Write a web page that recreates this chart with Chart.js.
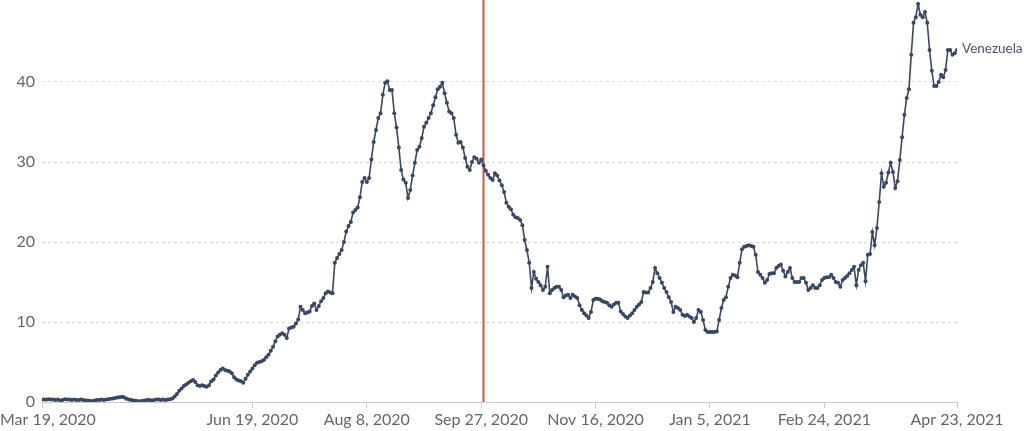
<!DOCTYPE html>
<html>
<head>
<meta charset="utf-8">
<script src="https://cdn.jsdelivr.net/npm/chart.js@4/dist/chart.umd.min.js"></script>
<style>
  html, body { margin: 0; padding: 0; background: #fff; }
  #wrap { width: 1024px; height: 431px; }
</style>
</head>
<body>
<div id="wrap"><canvas id="myChart"></canvas></div>
<script>
// daily values, day 0 = Mar 19, 2020 ... day 400 = Apr 23, 2021
var countryName = 'Venezuela';
var values = [
  0.3, 0.3, 0.3, 0.35, 0.3, 0.3, 0.25, 0.3, 0.2, 0.25,
  0.35, 0.3, 0.3, 0.25, 0.3, 0.25, 0.25, 0.3, 0.25, 0.2,
  0.2, 0.15, 0.1, 0.2, 0.25, 0.25, 0.3, 0.25, 0.3, 0.35,
  0.4, 0.45, 0.5, 0.55, 0.6, 0.65, 0.55, 0.4, 0.3, 0.25,
  0.2, 0.15, 0.1, 0.1, 0.15, 0.2, 0.25, 0.25, 0.2, 0.25,
  0.3, 0.3, 0.25, 0.3, 0.25, 0.3, 0.35, 0.45, 0.7, 1.0,
  1.4, 1.7, 2.0, 2.2, 2.4, 2.6, 2.75, 2.5, 2.1, 2.0,
  2.1, 2.0, 1.9, 2.1, 2.6, 2.8, 3.3, 3.7, 4.0, 4.2,
  4.0, 3.9, 3.8, 3.6, 3.1, 2.8, 2.7, 2.6, 2.4, 2.9,
  3.4, 3.8, 4.2, 4.6, 4.9, 5.0, 5.1, 5.25, 5.6, 5.9,
  6.4, 6.9, 7.6, 8.2, 8.4, 8.6, 8.4, 8.0, 9.2, 9.3,
  9.4, 9.8, 10.3, 11.9, 11.5, 11.1, 11.2, 11.3, 12.0, 12.3,
  11.5, 12.0, 12.6, 13.0, 13.6, 13.8, 13.7, 13.6, 17.4, 18.0,
  18.5, 19.0, 20.0, 21.3, 22.0, 22.5, 23.7, 24.0, 24.3, 25.6,
  27.5, 28.0, 27.5, 28.0, 30.3, 32.5, 34.0, 35.5, 36.1, 38.4,
  39.9, 40.1, 39.0, 39.0, 36.1, 34.3, 31.8, 29.0, 27.8, 27.4,
  25.5, 26.5, 28.3, 29.9, 31.5, 31.9, 33.0, 34.4, 34.9, 35.5,
  36.1, 37.1, 38.1, 39.1, 39.4, 39.9, 38.6, 37.4, 36.3, 36.1,
  35.5, 33.4, 32.4, 32.5, 31.8, 30.5, 29.4, 29.0, 30.0, 30.6,
  30.4, 29.9, 30.3, 29.6, 28.9, 28.4, 28.0, 27.75, 28.6, 28.3,
  27.7, 27.1, 26.25, 24.9, 24.4, 24.1, 23.4, 23.1, 23.0, 22.75,
  22.1, 20.25, 19.0, 17.4, 14.25, 16.25, 15.4, 15.0, 14.6, 14.0,
  14.4, 16.9, 13.6, 14.0, 14.25, 14.4, 14.4, 14.0, 13.1, 13.3,
  13.4, 13.0, 13.4, 13.2, 13.0, 12.1, 11.5, 11.1, 10.8, 10.5,
  11.25, 12.75, 12.9, 12.9, 12.8, 12.6, 12.5, 12.4, 12.1, 11.9,
  12.2, 12.4, 12.4, 11.3, 11.0, 10.7, 10.5, 10.8, 11.1, 11.5,
  11.9, 12.2, 12.5, 13.75, 13.7, 13.7, 14.25, 15.0, 16.75, 16.1,
  15.5, 14.9, 14.25, 13.75, 13.1, 12.5, 11.25, 11.9, 11.75, 11.5,
  10.9, 10.75, 10.9, 10.7, 10.5, 10.0, 10.5, 11.5, 11.25, 10.25,
  9.0, 8.75, 8.75, 8.75, 8.75, 8.8, 10.25, 11.75, 12.75, 13.1,
  14.4, 15.5, 15.9, 15.8, 15.6, 17.4, 19.1, 19.4, 19.5, 19.6,
  19.5, 19.4, 18.4, 16.25, 15.9, 15.5, 14.9, 15.25, 16.0, 16.1,
  16.1, 16.75, 17.0, 17.2, 16.4, 15.7, 16.25, 16.75, 15.5, 15.0,
  15.0, 15.0, 15.5, 15.5, 14.9, 14.0, 14.25, 14.6, 14.25, 14.25,
  14.6, 15.25, 15.5, 15.6, 15.6, 15.9, 15.5, 15.0, 14.9, 14.4,
  15.25, 15.5, 15.75, 16.1, 16.5, 16.9, 14.6, 16.5, 17.1, 17.4,
  15.1, 18.4, 18.5, 21.25, 19.6, 21.75, 25.0, 28.6, 26.9, 27.4,
  28.7, 29.9, 28.75, 26.75, 27.6, 30.25, 33.1, 35.9, 38.0, 39.1,
  43.4, 47.4, 48.1, 49.75, 48.4, 48.1, 48.75, 47.4, 44.0, 41.4,
  39.5, 39.5, 40.0, 40.9, 40.6, 41.5, 44.0, 44.0, 43.4, 43.6,
  44.0
];
var tickDays = [0, 92, 142, 192, 242, 292, 342, 400];
var tickLabels = ['Mar 19, 2020', 'Jun 19, 2020', 'Aug 8, 2020', 'Sep 27, 2020',
                  'Nov 16, 2020', 'Jan 5, 2021', 'Feb 24, 2021', 'Apr 23, 2021'];
var yTicks = [0, 10, 20, 30, 40];
var markerDay = 193;

var lineColor = '#3b4761';
var textGray = '#666';

var points = values.map(function (v, i) { return { x: i, y: v }; });

var overlay = {
  id: 'overlay',
  beforeDatasetsDraw: function (chart) {
    var ctx = chart.ctx, xs = chart.scales.x, area = chart.chartArea;
    var px = Math.round(xs.getPixelForValue(markerDay)) + 0.5;
    ctx.save();
    ctx.strokeStyle = '#d9513a';
    ctx.lineWidth = 2;
    ctx.beginPath();
    ctx.moveTo(px, 0);
    ctx.lineTo(px, area.bottom);
    ctx.stroke();
    ctx.restore();
  },
  afterDraw: function (chart) {
    var ctx = chart.ctx, xs = chart.scales.x, ys = chart.scales.y;
    ctx.save();
    ctx.font = '16px Lato';
    ctx.fillStyle = textGray;
    ctx.textBaseline = 'alphabetic';
    for (var i = 0; i < tickDays.length; i++) {
      var w = ctx.measureText(tickLabels[i]).width;
      var left = xs.getPixelForValue(tickDays[i]) - w / 2;
      if (left < 0) left = 0;
      if (left + w > chart.width) left = chart.width - w;
      ctx.fillText(tickLabels[i], left, 425);
    }
    var last = values.length - 1;
    ctx.font = '13.5px Lato';
    ctx.fillStyle = '#4a5570';
    ctx.textBaseline = 'middle';
    ctx.fillText(countryName, xs.getPixelForValue(last) + 5, ys.getPixelForValue(values[last]) - 1);
    ctx.restore();
  }
};

var ctx = document.getElementById('myChart').getContext('2d');
var myChart = new Chart(ctx, {
  type: 'line',
  data: {
    datasets: [{
      label: countryName,
      data: points,
      borderColor: lineColor,
      backgroundColor: lineColor,
      borderWidth: 1.6,
      pointRadius: 2,
      pointHoverRadius: 2,
      pointBorderWidth: 0,
      tension: 0
    }]
  },
  options: {
    responsive: true,
    maintainAspectRatio: false,
    animation: false,
    events: [],
    layout: { padding: { top: 2, right: 67, left: 0, bottom: 0 } },
    plugins: { legend: { display: false }, tooltip: { enabled: false } },
    scales: {
      x: {
        type: 'linear',
        min: 0,
        max: 400,
        afterBuildTicks: function (scale) {
          scale.ticks = tickDays.map(function (d) { return { value: d }; });
        },
        afterFit: function (scale) {
          scale.height = 29;
          scale.paddingLeft = 0;
          scale.paddingRight = 0;
        },
        ticks: { display: false },
        grid: { display: true, drawOnChartArea: false, drawTicks: true, tickLength: 6, color: '#ccc' },
        border: { display: true, color: '#ccc', width: 1 }
      },
      y: {
        min: 0,
        max: 50,
        afterBuildTicks: function (scale) {
          scale.ticks = yTicks.map(function (v) { return { value: v }; });
        },
        afterFit: function (scale) {
          scale.width = 42;
          scale.paddingTop = 0;
          scale.paddingBottom = 0;
        },
        ticks: { color: textGray, font: { family: 'Lato', size: 16 }, padding: 7 },
        grid: { color: '#ddd', drawTicks: false },
        border: { display: false, dash: [3, 3] }
      }
    }
  },
  plugins: [overlay]
});
</script>
</body>
</html>
